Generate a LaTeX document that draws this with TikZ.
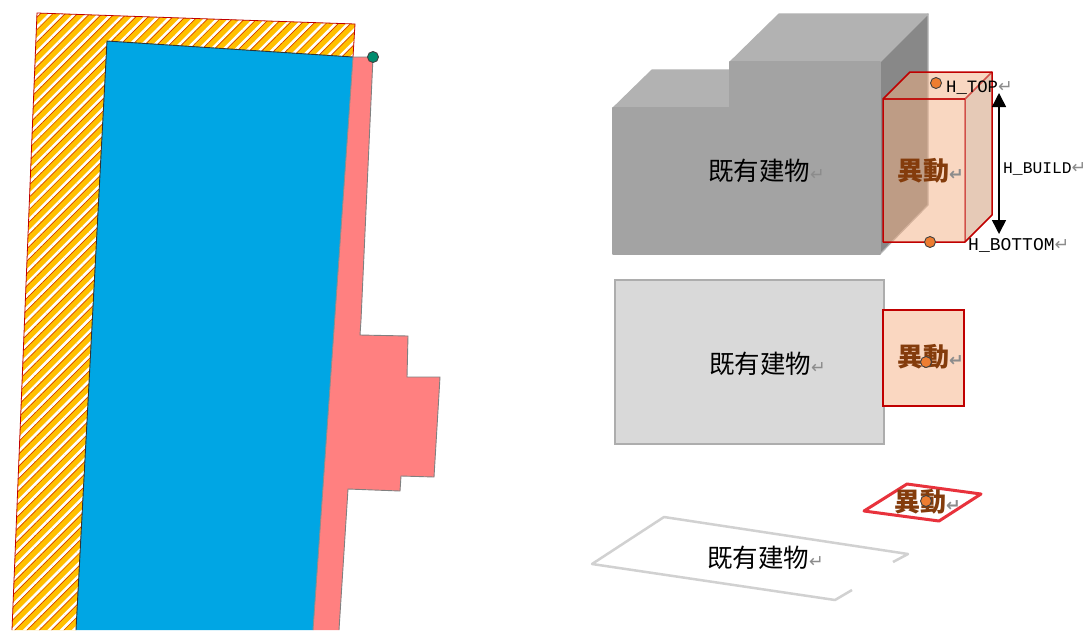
\documentclass[tikz,border=0pt]{standalone}
\usepackage{fontspec}
\usetikzlibrary{arrows.meta, patterns.meta}
\setmainfont{Liberation Mono}
\newfontfamily\cjkfont{Noto Sans CJK TC}
\newfontfamily\symfont{DejaVu Sans}
\definecolor{hatchorange}{RGB}{255,192,0}
\definecolor{planblue}{RGB}{0,166,228}
\definecolor{planpink}{RGB}{255,128,128}
\definecolor{pointteal}{RGB}{0,140,110}
\definecolor{roofgray}{RGB}{178,178,178}
\definecolor{frontgray}{RGB}{163,163,163}
\definecolor{sidegray}{RGB}{136,136,136}
\definecolor{paleorange}{RGB}{244,176,132}
\definecolor{boxred}{RGB}{192,0,0}
\definecolor{flatred}{RGB}{232,50,60}
\definecolor{textbrown}{RGB}{132,60,12}
\definecolor{dotorange}{RGB}{237,125,49}
\newcommand{\retmark}{{\symfont\fontsize{17.5}{18}\selectfont\textcolor{black!45}{↵}}}

\begin{document}
\begin{tikzpicture}[
    x=1pt, y=-1pt,
    facegray/.style={line width=1.2pt, line join=round},
    solidbox/.style={fill=paleorange, fill opacity=0.5, draw=boxred, draw opacity=1, line width=1.5pt, line join=round},
    buildlabel/.style={font=\cjkfont\fontsize{25.5}{26}\selectfont, text=black, inner sep=0pt, anchor=west},
    movelabel/.style={font=\cjkfont\bfseries\fontsize{26}{26}\selectfont, text=textbrown, inner sep=0pt, anchor=west},
    heightlabel/.style={font=\fontsize{16.3}{17}\selectfont, text=black, inner sep=0pt, anchor=west},
    pointdot/.style={circle, draw=black!75, fill=dotorange, line width=0.9pt, minimum size=11pt, inner sep=0pt}
]
    \useasboundingbox (0,0) rectangle (1086,630);
    \fill[white] (0,0) rectangle (1086,630);

    % Plan on the left
    \fill[planpink] (353,57) -- (373,57) -- (361,320) -- (360,335) -- (408,336) -- (407,377) -- (440,377)
        -- (434,477) -- (401,476) -- (400,491) -- (348,489) -- (339,630) -- (313,630) -- cycle;
    \draw[black!50, line width=0.9pt] (353,57) -- (373,57) -- (361,320) -- (360,335) -- (408,336) -- (407,377) -- (440,377)
        -- (434,477) -- (401,476) -- (400,491) -- (348,489) -- (339,630);
    \fill[hatchorange] (37,13) -- (355,24) -- (353,57) -- (107,41) -- (76,630) -- (12,630) -- cycle;
    \fill[pattern={Lines[angle=45, distance=8.7pt, line width=2.6pt]}, pattern color=white]
        (37,13) -- (355,24) -- (353,57) -- (107,41) -- (76,630) -- (12,630) -- cycle;
    \fill[pattern={Lines[angle=45, distance=8.7pt, line width=0.5pt, xshift=2.6pt]}, pattern color=boxred!80!hatchorange]
        (37,13) -- (355,24) -- (353,57) -- (107,41) -- (76,630) -- (12,630) -- cycle;
    \draw[boxred, line width=0.8pt] (12,630) -- (37,13) -- (355,24) -- (353,57);
    \fill[planblue] (107,41) -- (353,57) -- (313,630) -- (76,630) -- cycle;
    \draw[black!80, line width=0.9pt] (76,630) -- (107,41) -- (353,57);
    \draw[black!45, line width=0.9pt] (353,57) -- (313,630);
    \node[pointdot, fill=pointteal] (corner) at (373,57) {};

    % Existing building, 3D view
    \filldraw[facegray, fill=roofgray, draw=roofgray] (613,108) -- (652,70) -- (730,70) -- (730,108) -- cycle;
    \filldraw[facegray, fill=frontgray, draw=frontgray] (613,108) rectangle (730,254);
    \filldraw[facegray, fill=roofgray, draw=roofgray] (730,62) -- (779,14) -- (928,14) -- (880,62) -- cycle;
    \filldraw[facegray, fill=sidegray, draw=roofgray] (880,62) -- (928,14) -- (928,205) -- (880,254) -- cycle;
    \filldraw[facegray, fill=frontgray, draw=frontgray] (730,62) rectangle (880,254);
    \node[buildlabel] (build3d) at (708,171) {既有建物\retmark};

    % Moved block, 3D view
    \path[solidbox, draw=none] (883,99) -- (910,72) -- (992,72) -- (965,99) -- cycle;
    \path[solidbox, draw=none, fill=paleorange!85!black] (965,99) -- (992,72) -- (992,215) -- (965,242) -- cycle;
    \path[solidbox, draw=none] (883,99) rectangle (965,242);
    \draw[boxred, line width=1.5pt, line join=round] (883,99) -- (910,72) -- (992,72) -- (992,215) -- (965,242) -- (883,242) -- cycle;
    \draw[boxred, line width=1.5pt, opacity=0.6] (992,72) -- (965,99) -- (965,242);
    \draw[boxred, line width=1.5pt, opacity=0.85] (883,99) -- (965,99);
    \node[movelabel] (move3d) at (897,171) {異動\retmark};
    \node[pointdot] (topdot) at (936,83) {};
    \node[pointdot] (bottomdot) at (930,242) {};

    % Heights
    \coordinate (arrowtop) at (999,93);
    \coordinate (arrowbottom) at (999,234);
    \draw[{Triangle[length=14pt, width=14pt]}-{Triangle[length=14pt, width=14pt]}, line width=1.5pt] (arrowtop) -- (arrowbottom);
    \node[heightlabel, font=\fontsize{17.3}{18}\selectfont] (htop) at (946,88) {H\_TOP\retmark};
    \node[heightlabel] (hbuild) at (1003,169) {H\_BUILD\retmark};
    \node[heightlabel, font=\fontsize{18}{18}\selectfont] (hbottom) at (968,245) {H\_BOTTOM\retmark};

    % Front view
    \filldraw[fill=black!15, draw=black!32, line width=1.5pt] (615,280) rectangle (884,444);
    \node[buildlabel] (buildfront) at (709,364) {既有建物\retmark};
    \filldraw[fill=paleorange!50!white, draw=boxred, line width=1.5pt] (883,310) rectangle (964,406);
    \node[movelabel] (movefront) at (897,357) {異動\retmark};
    \node[pointdot] (frontdot) at (926,362) {};

    % Footprint on the ground
    \draw[black!18, line width=2.5pt, line join=round] (893,562) -- (908,554) -- (664,517) -- (592,564) -- (835,600) -- (852,590);
    \node[buildlabel] (buildplan) at (707,558) {既有建物\retmark};
    \draw[flatred, line width=3pt, line join=round] (864,511) -- (907,484) -- (981,494) -- (939,521) -- cycle;
    \node[movelabel] (moveplan) at (894,502) {異動\retmark};
    \node[pointdot] (plandot) at (926,501) {};
\end{tikzpicture}
\end{document}
